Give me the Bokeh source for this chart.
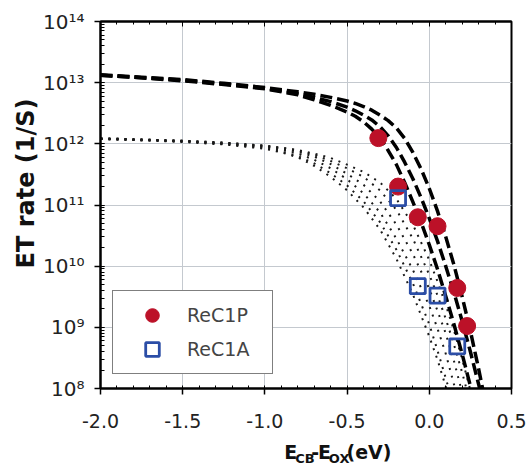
import numpy as np
from bokeh.plotting import figure
from bokeh.layouts import column, row
from bokeh.models import (Range1d, FixedTicker, LogTicker, LinearAxis, Legend,
                          LegendItem, CustomJSTickFormatter)
from bokeh.core.properties import value
from bokeh.embed import file_html
from bokeh.resources import INLINE

# ---- measured ET rates (1/s) ----
rec1p_x = [-0.31, -0.19, -0.07, 0.05, 0.17, 0.23]
rec1p_rate = [1.24e12, 2.0e11, 6.3e10, 4.5e10, 4.4e9, 1.05e9]
rec1a_x = [-0.19, -0.07, 0.05, 0.17]
rec1a_rate = [1.3e11, 4.7e9, 3.3e9, 4.9e8]

# ---- model curves, log10(rate) ----
x_dash = [-2.0, -1.75, -1.5, -1.25, -1.0, -0.8, -0.7, -0.6, -0.5, -0.45, -0.4,
          -0.35, -0.3, -0.25, -0.2, -0.15, -0.1, -0.05, 0.0, 0.05, 0.1, 0.15,
          0.2, 0.25, 0.3, 0.35]
dash_inner = [13.12, 13.08, 13.03, 12.97, 12.90, 12.80, 12.72, 12.63, 12.52, 12.45,
              12.36, 12.24, 12.10, 11.89, 11.66, 11.37, 11.05, 10.72, 10.35, 9.95,
              9.51, 9.05, 8.56, 8.04, 7.49, 6.90]
dash_middle = [13.12, 13.08, 13.04, 12.98, 12.91, 12.82, 12.76, 12.69, 12.60, 12.54,
               12.47, 12.39, 12.28, 12.13, 11.94, 11.70, 11.43, 11.12, 10.78, 10.41,
               10.00, 9.57, 9.10, 8.60, 8.07, 7.50]
dash_outer = [13.13, 13.09, 13.05, 12.99, 12.92, 12.85, 12.81, 12.76, 12.70, 12.66,
              12.61, 12.55, 12.47, 12.38, 12.26, 12.09, 11.86, 11.59, 11.27, 10.90,
              10.48, 10.02, 9.50, 8.94, 8.32, 7.66]

x_dot = [-2.0, -1.75, -1.5, -1.25, -1.0, -0.9, -0.8, -0.7, -0.6, -0.5, -0.4, -0.3,
         -0.2, -0.1, 0.0, 0.05, 0.1, 0.15, 0.2, 0.25, 0.3]
dot_curves = [
    [12.08, 12.06, 12.03, 11.99, 11.92, 11.86, 11.78, 11.64, 11.46, 11.24, 10.96,
     10.60, 10.12, 9.54, 8.85, 8.47, 8.03, 7.55, 7.00, 6.40, 5.80],
    [12.08, 12.06, 12.04, 12.00, 11.93, 11.87, 11.80, 11.68, 11.52, 11.32, 11.06,
     10.72, 10.27, 9.72, 9.05, 8.62, 8.17, 7.70, 7.20, 6.65, 6.10],
    [12.08, 12.06, 12.04, 12.00, 11.95, 11.90, 11.84, 11.74, 11.60, 11.42, 11.19,
     10.88, 10.45, 9.94, 9.35, 8.98, 8.57, 8.07, 7.55, 7.00, 6.40],
    [12.09, 12.07, 12.05, 12.01, 11.96, 11.92, 11.87, 11.79, 11.67, 11.51, 11.33,
     11.06, 10.68, 10.20, 9.63, 9.27, 8.90, 8.45, 7.93, 7.40, 6.80],
    [12.09, 12.07, 12.05, 12.02, 11.97, 11.93, 11.89, 11.82, 11.72, 11.60, 11.46,
     11.24, 10.92, 10.45, 9.86, 9.52, 9.14, 8.72, 8.26, 7.75, 7.20],
    [12.09, 12.07, 12.05, 12.02, 11.97, 11.94, 11.90, 11.84, 11.77, 11.66, 11.54,
     11.37, 11.10, 10.68, 10.10, 9.75, 9.37, 8.95, 8.48, 7.97, 7.45],
]

x_ticks = [-2.0, -1.5, -1.0, -0.5, 0.0, 0.5]
x_tick_labels = ["-2.0", "-1.5", "-1.0", "-0.5", "0.0", "0.5"]
x_minor = [round(-2.0 + 0.1 * i, 1) for i in range(26)]
y_ticks = [1e8, 1e9, 1e10, 1e11, 1e12, 1e13, 1e14]
y_tick_labels = ["10⁸", "10⁹", "10¹⁰", "10¹¹", "10¹²", "10¹³", "10¹⁴"]

# axis titles (x title split into main letters and subscripts)
y_title = "ET rate (1/S)"
xtitle_main = ["E", "-", "E", "(eV)"]
xtitle_main_pos = [220, 252.4, 260.3, 294.5]
xtitle_sub = ["CB", "OX"]
xtitle_sub_pos = [233, 273.3]

FONT = "DejaVu Sans"
RED = "#BC1128"
BLUE = "#2B4DA6"
GRID = "#C4C9CF"
TOTAL_H = 464
STRIP_W = 40
W = 532 - STRIP_W
MAIN_H = 438
TITLE_H = TOTAL_H - MAIN_H


def text_strip(width, height):
    f = figure(width=width, height=height, output_backend="svg", toolbar_location=None,
               title=None, x_range=Range1d(0, width), y_range=Range1d(0, height),
               x_axis_location=None, y_axis_location=None, min_border=0)
    f.grid.visible = False
    f.outline_line_color = None
    f.background_fill_color = "white"
    f.border_fill_color = "white"
    return f


p = figure(width=W, height=MAIN_H, output_backend="svg", toolbar_location=None,
           title=None, y_axis_type="log", x_range=Range1d(-2.0, 0.5),
           y_range=Range1d(1e8, 1e14), min_border_left=98 - STRIP_W,
           min_border_right=21, min_border_top=21, min_border_bottom=50)
p.background_fill_color = "white"
p.border_fill_color = "white"
p.outline_line_color = "black"
p.outline_line_width = 2

# grid
p.xgrid.ticker = FixedTicker(ticks=x_ticks)
p.xgrid.grid_line_color = GRID
p.ygrid.grid_line_color = GRID

# bottom axis
xa = p.xaxis[0]
xa.ticker = FixedTicker(ticks=x_ticks, minor_ticks=x_minor)
xa.major_label_overrides = {t: s for t, s in zip(x_ticks, x_tick_labels)}
xa.major_label_text_font = FONT
xa.major_label_text_font_size = "19px"
xa.major_label_text_color = "#222222"
xa.major_label_standoff = 19
xa.axis_line_width = 2
xa.major_tick_in = 0
xa.major_tick_out = 6
xa.minor_tick_in = 3
xa.minor_tick_out = 0
xa.major_tick_line_width = 1.5

# top axis (ticks only)
ta = LinearAxis(ticker=FixedTicker(ticks=x_ticks, minor_ticks=x_minor),
                formatter=CustomJSTickFormatter(code="return ''"),
                major_label_text_font_size="6px", axis_line_width=2,
                major_tick_in=5, major_tick_out=0, minor_tick_in=3, minor_tick_out=0)
p.add_layout(ta, "above")

# left axis
ya = p.yaxis[0]
ya.ticker = LogTicker(mantissas=[1], num_minor_ticks=10)
ya.major_label_overrides = {t: s for t, s in zip(y_ticks, y_tick_labels)}
ya.major_label_text_font = FONT
ya.major_label_text_font_size = "20px"
ya.major_label_text_color = "#222222"
ya.major_label_standoff = 10
ya.axis_line_width = 2
ya.major_tick_in = 0
ya.major_tick_out = 6
ya.minor_tick_in = 4
ya.minor_tick_out = 0
ya.major_tick_line_width = 1.5

# dotted model curves
for curve in dot_curves:
    p.line(x_dot, np.power(10.0, curve), line_color="#1a1a1a", line_width=2,
           line_dash="2 6")

# dashed model curves
for curve in (dash_inner, dash_middle, dash_outer):
    p.line(x_dash, np.power(10.0, curve), line_color="black", line_width=3.5,
           line_dash="12 5")

r_p = p.scatter(rec1p_x, rec1p_rate, marker="circle", size=17, fill_color=RED,
                line_color=RED)
r_a = p.scatter(rec1a_x, rec1a_rate, marker="square", size=15, fill_color="white",
                fill_alpha=0.0, line_color=BLUE, line_width=2.8)

legend = Legend(items=[LegendItem(label="ReC1P", renderers=[r_p]),
                       LegendItem(label="ReC1A", renderers=[r_a])],
                location=(12, 14), padding=7, spacing=0, margin=0,
                glyph_width=64, glyph_height=34, label_standoff=3, label_width=78,
                label_text_font=FONT, label_text_font_size="19px",
                border_line_color="black", border_line_width=1.5,
                background_fill_color="white", background_fill_alpha=1.0)
p.add_layout(legend, "center")

# left strip with the rotated y-axis title
ys = text_strip(STRIP_W, TOTAL_H)
ys.text(x=[25], y=[281], text=[y_title], angle=float(np.pi / 2),
        text_font=value(FONT), text_font_size="24px", text_font_style="bold",
        text_color="#111111", text_align="center", text_baseline="middle")

# bottom strip with the x-axis title and its subscripts
xs = text_strip(W, TITLE_H)
xs.text(x=xtitle_main_pos, y=[13] * len(xtitle_main), text=xtitle_main,
        text_font=value(FONT), text_font_size="19px", text_font_style="bold",
        text_color="#111111", text_align="left", text_baseline="middle")
xs.text(x=xtitle_sub_pos, y=[6.5] * len(xtitle_sub), text=xtitle_sub,
        text_font=value(FONT), text_font_size="13px", text_font_style="bold",
        text_color="#111111", text_align="left", text_baseline="middle")

layout = row(ys, column(p, xs, spacing=0), spacing=0)
open("out.html", "w").write(file_html(layout, INLINE))
